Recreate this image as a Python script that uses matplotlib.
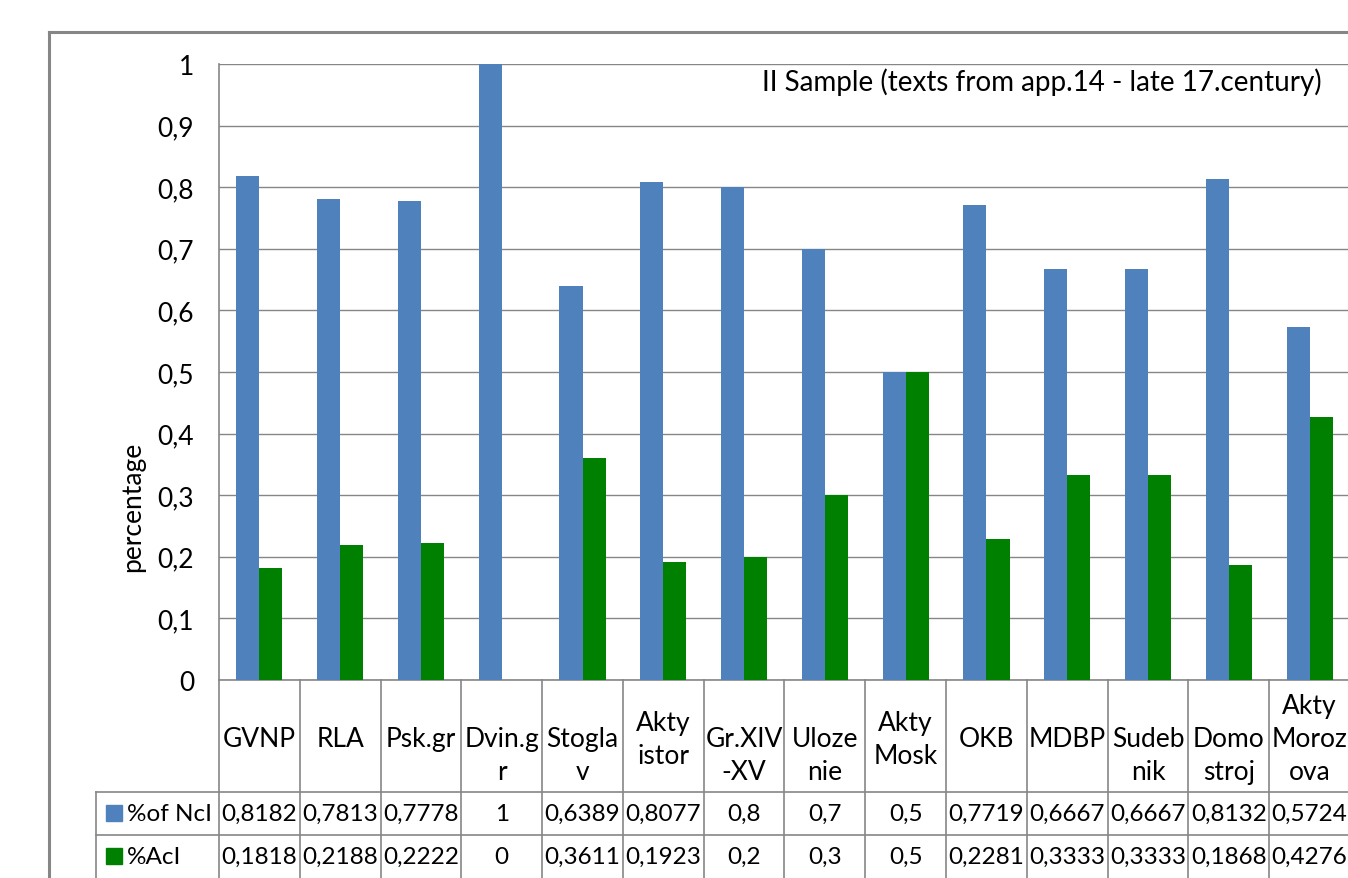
import numpy as np
import matplotlib
matplotlib.use("Agg")
import matplotlib.pyplot as plt

plt.rcParams['font.family'] = ['Lato', 'DejaVu Sans']

categories = ["GVNP", "RLA", "Psk.gr", "\nDvin.g\nr", "\nStogla\nv", "Akty\nistor",
              "\nGr.XIV\n-XV", "\nUloze\nnie", "Akty\nMosk", "OKB", "MDBP",
              "\nSudeb\nnik", "\nDomo\nstroj", "Akty\nMoroz\nova"]
ncl = [0.8182, 0.7813, 0.7778, 1, 0.6389, 0.8077, 0.8, 0.7, 0.5, 0.7719,
       0.6667, 0.6667, 0.8132, 0.5724]
acl = [0.1818, 0.2188, 0.2222, 0, 0.3611, 0.1923, 0.2, 0.3, 0.5, 0.2281,
       0.3333, 0.3333, 0.1868, 0.4276]
series_names = ["%of NcI", "%AcI"]
colors = ["#4F81BD", "#008000"]
yticks = [0, 0.1, 0.2, 0.3, 0.4, 0.5, 0.6, 0.7, 0.8, 0.9, 1]
ytick_labels = ["0", "0,1", "0,2", "0,3", "0,4", "0,5", "0,6", "0,7", "0,8", "0,9", "1"]
title = "II Sample (texts from app.14 - late 17.century)"

W, H = 1348, 879
grey = "#868686"
fs = 19
fs_tab = 17.5

fig = plt.figure(figsize=(W / 100, H / 100), dpi=100)

# background layer in pixel coordinates for frame and data table
lay = fig.add_axes([0, 0, 1, 1], zorder=0)
lay.set_xlim(0, W)
lay.set_ylim(H, 0)
lay.axis("off")

left, right, top, bottom = 219, 1350, 65, 681
ax = fig.add_axes([left / W, 1 - bottom / H, (right - left) / W, (bottom - top) / H], zorder=1)
ax.set_facecolor("none")
n = len(categories)
x = np.arange(n) + 0.5
w = 0.286
ax.bar(x - w / 2, ncl, w, color=colors[0], zorder=3)
ax.bar(x + w / 2, acl, w, color=colors[1], zorder=3)
ax.set_xlim(0, n)
ax.set_ylim(0, 1)
ax.set_xticks([])
ax.set_yticks(yticks)
ax.set_yticklabels(ytick_labels, fontsize=fs)
ax.tick_params(axis="y", length=0, pad=18)
ax.yaxis.grid(True, color=grey, lw=1)
ax.set_axisbelow(True)
for s in ["top", "right"]:
    ax.spines[s].set_visible(False)
for s in ["left", "bottom"]:
    ax.spines[s].set_color(grey)
    ax.spines[s].set_linewidth(1.2)

fig.text(133 / W, 1 - 507 / H, "percentage", rotation=90, ha="center", va="center", fontsize=fs)
lay.text(1322, 82, title, ha="right", va="center", fontsize=20)

# outer chart border
lay.plot([49, 49], [H + 5, 33], color=grey, lw=2.2)
lay.plot([49, W + 5], [33, 33], color=grey, lw=2.2)

# data table
edges = [ax.transData.transform((i, 0))[0] for i in range(n + 1)]
centers = [ax.transData.transform((xi, 0))[0] for xi in x]
row_y = [681, 793, 836, 879]
for e in edges:
    lay.plot([e, e], [row_y[0], row_y[-1] + 5], color=grey, lw=1.2)
lay.plot([96, 96], [row_y[1], row_y[-1] + 5], color=grey, lw=1.2)
for ry in row_y[1:3]:
    lay.plot([96, W + 5], [ry, ry], color=grey, lw=1.2)

for cx, lab in zip(centers, categories):
    lay.text(cx, 740, lab, ha="center", va="center", fontsize=fs, linespacing=1.4)


def fmt(v):
    return f"{v:g}".replace(".", ",")


for r, (vals, name, col) in enumerate(zip([ncl, acl], series_names, colors)):
    yc = (row_y[r + 1] + row_y[r + 2]) / 2
    lay.add_patch(plt.Rectangle((106, yc - 8), 16, 16, color=col))
    lay.text(127, yc, name, ha="left", va="center", fontsize=fs_tab)
    for cx, v in zip(centers, vals):
        lay.text(cx, yc, fmt(v), ha="center", va="center", fontsize=fs_tab)

fig.savefig("out.png", dpi=100)
